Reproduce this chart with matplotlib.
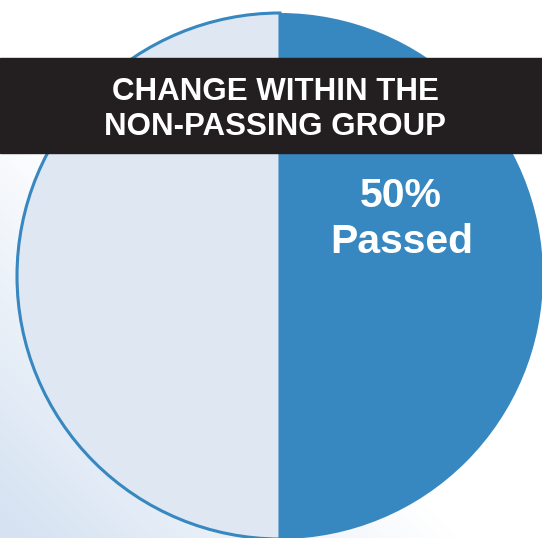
import numpy as np
import matplotlib
matplotlib.use("Agg")
import matplotlib.pyplot as plt

# data
labels = ["Passed", "Not passed"]
shares = [50, 50]
colors = ["#3787c0", "#dfe7f3"]
title_lines = ["CHANGE WITHIN THE", "NON-PASSING GROUP"]
pass_label = ["50%", "Passed"]

W, H = 542, 538
fig = plt.figure(figsize=(W / 100, H / 100), dpi=100)
ax = fig.add_axes([0, 0, 1, 1])

# faint blue wash in the lower left corner
yy, xx = np.mgrid[0:H, 0:W]
t = np.clip((yy - xx - 80) / 430.0, 0, 1)
white = np.array([1.0, 1.0, 1.0])
blue = np.array([0.84, 0.89, 0.95])
wash = white + (blue - white) * t[..., None]
ax.imshow(wash, extent=[0, W, 0, H], origin="upper", zorder=0, aspect="auto")

cx, cy, r = 280, H - 276, 263
wedges, _ = ax.pie(shares, colors=colors, startangle=90, counterclock=False,
                   center=(cx, cy), radius=r, frame=True)
wedges[1].set_edgecolor("#3787c0")
wedges[1].set_linewidth(2.2)
wedges[1].set_zorder(2)
wedges[0].set_edgecolor("none")
wedges[0].set_zorder(3)
ax.set_xlim(0, W)
ax.set_ylim(0, H)
ax.set_aspect("auto")
ax.axis("off")

# black title band
ax.axhspan(H - 153, H - 58, color="#231f20", zorder=5)
font = ["Liberation Sans", "DejaVu Sans"]
ax.text(275, H - 100, title_lines[0], color="white", fontsize=22.5, fontweight="bold",
        family=font, ha="center", va="baseline", zorder=6)
ax.text(275, H - 135, title_lines[1], color="white", fontsize=22.5, fontweight="bold",
        family=font, ha="center", va="baseline", zorder=6)

ax.text(401, H - 207, pass_label[0], color="white", fontsize=29.5, fontweight="bold",
        family=font, ha="center", va="baseline", zorder=6)
ax.text(402, H - 253, pass_label[1], color="white", fontsize=29.5, fontweight="bold",
        family=font, ha="center", va="baseline", zorder=6)

fig.savefig("out.png", dpi=100)
